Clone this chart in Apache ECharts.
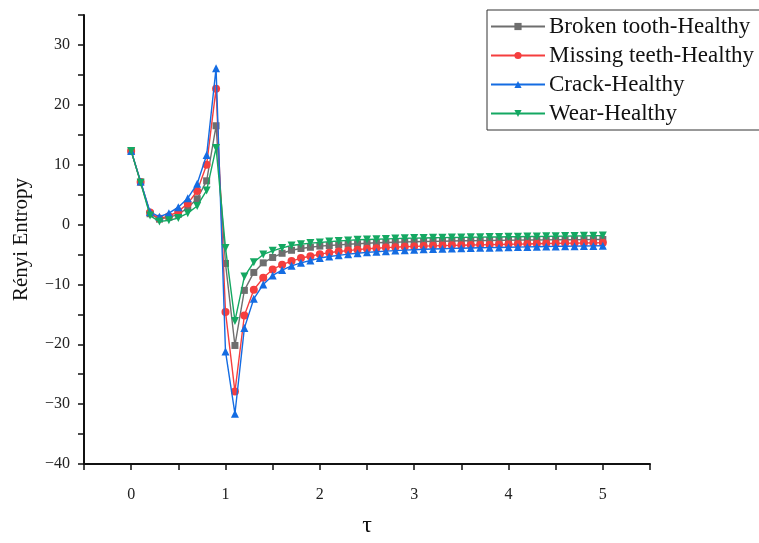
<!DOCTYPE html>
<html>
<head>
<meta charset="utf-8">
<script src="https://cdn.jsdelivr.net/npm/echarts@6/dist/echarts.min.js"></script>
<style>html,body{margin:0;padding:0;background:#fff}#c{width:759px;height:543px}</style>
</head>
<body>
<div id="c"></div>
<script>
const tau = [0.0,0.1,0.2,0.3,0.4,0.5,0.6,0.7,0.8,0.9,1.0,1.1,1.2,1.3,1.4,1.5,1.6,1.7,1.8,1.9,2.0,2.1,2.2,2.3,2.4,2.5,2.6,2.7,2.8,2.9,3.0,3.1,3.2,3.3,3.4,3.5,3.6,3.7,3.8,3.9,4.0,4.1,4.2,4.3,4.4,4.5,4.6,4.7,4.8,4.9,5.0];
const brokenTooth = [12.3,7.1,1.8,0.9,1.2,1.7,2.8,4.3,7.3,16.5,-6.5,-20.2,-11.0,-8.0,-6.4,-5.5,-4.8,-4.3,-4.0,-3.8,-3.6,-3.5,-3.4,-3.3,-3.2,-3.12,-3.05,-3.0,-2.95,-2.9,-2.87,-2.84,-2.81,-2.78,-2.75,-2.72,-2.7,-2.68,-2.66,-2.64,-2.62,-2.6,-2.59,-2.58,-2.56,-2.55,-2.54,-2.53,-2.52,-2.51,-2.5];
const missingTeeth = [12.3,7.1,2.0,1.0,1.4,2.2,3.5,5.6,10.0,22.7,-14.6,-27.9,-15.2,-10.9,-8.9,-7.5,-6.7,-6.1,-5.6,-5.3,-4.95,-4.7,-4.5,-4.35,-4.2,-4.05,-3.95,-3.85,-3.78,-3.7,-3.65,-3.6,-3.56,-3.52,-3.48,-3.45,-3.42,-3.39,-3.36,-3.33,-3.3,-3.27,-3.24,-3.21,-3.18,-3.15,-3.13,-3.11,-3.09,-3.07,-3.05];
const crack = [12.3,7.2,2.1,1.3,1.9,2.9,4.4,6.8,11.6,26.1,-21.2,-31.6,-17.3,-12.4,-10.0,-8.5,-7.6,-6.9,-6.4,-6.0,-5.6,-5.35,-5.15,-4.95,-4.8,-4.65,-4.55,-4.45,-4.35,-4.28,-4.2,-4.14,-4.09,-4.04,-3.99,-3.95,-3.92,-3.89,-3.86,-3.83,-3.8,-3.77,-3.74,-3.71,-3.68,-3.65,-3.63,-3.61,-3.59,-3.57,-3.55];
const wear = [12.3,7.0,1.5,0.5,0.7,1.1,1.9,3.1,5.7,12.8,-3.9,-16.1,-8.7,-6.3,-5.0,-4.4,-3.9,-3.5,-3.3,-3.1,-3.0,-2.85,-2.75,-2.65,-2.55,-2.5,-2.45,-2.4,-2.35,-2.3,-2.27,-2.24,-2.21,-2.19,-2.17,-2.15,-2.13,-2.11,-2.09,-2.07,-2.05,-2.03,-2.01,-1.99,-1.97,-1.95,-1.93,-1.91,-1.89,-1.87,-1.85];
const seriesNames = ['Broken tooth-Healthy','Missing teeth-Healthy','Crack-Healthy','Wear-Healthy'];
const xTicks = [0,1,2,3,4,5];
const yTicks = [-40,-30,-20,-10,0,10,20,30];

const colors = ['#6e6e6e','#f53e3e','#146ce2','#14a862'];
const symbols = ['rect','circle','triangle','triangle'];
const rot = [0,0,0,180];
const datasets = [brokenTooth, missingTeeth, crack, wear];
const font = 'Liberation Serif, Times New Roman, serif';

const chart = echarts.init(document.getElementById('c'), null, {renderer:'canvas'});
chart.setOption({
  animation: false,
  backgroundColor: '#fff',
  grid: {left: 84, right: 109, top: 15, bottom: 72, containLabel: false},
  legend: {
    orient: 'vertical', left: 487, top: 10,
    data: seriesNames,
    itemWidth: 54, itemHeight: 9, itemGap: 6,
    padding: [5, 10, 5, 3],
    borderColor: '#333', borderWidth: 1, backgroundColor: '#fff',
    textStyle: {fontFamily: font, fontSize: 23, color: '#111', padding: [0,0,0,-1]}
  },
  xAxis: {
    type: 'value', min: -0.5, max: 5.5, interval: 0.5,
    name: 'τ', nameLocation: 'middle', nameGap: 50,
    nameTextStyle: {fontFamily: font, fontSize: 24, color: '#111'},
    axisLine: {show: true, onZero: false, lineStyle: {color: '#111', width: 2}},
    axisTick: {show: true, inside: false, length: 6, lineStyle: {color: '#111', width: 1.5}},
    axisLabel: {fontFamily: font, fontSize: 16, color: '#222', margin: 23,
      formatter: v => xTicks.includes(Math.round(v*10)/10) ? String(Math.round(v)) : ''},
    splitLine: {show: false}
  },
  yAxis: {
    type: 'value', min: -40, max: 35, interval: 5,
    name: 'Rényi Entropy', nameLocation: 'middle', nameGap: 52,
    nameTextStyle: {fontFamily: font, fontSize: 21, color: '#111'},
    axisLine: {show: true, onZero: false, lineStyle: {color: '#111', width: 2}},
    axisTick: {show: true, inside: false, length: 6, lineStyle: {color: '#111', width: 1.5}},
    axisLabel: {fontFamily: font, fontSize: 16, color: '#222', margin: 14,
      formatter: v => yTicks.includes(v) ? String(v).replace('-', '\u2212') : ''},
    splitLine: {show: false}
  },
  series: datasets.map((d, i) => ({
    name: seriesNames[i],
    type: 'line',
    data: tau.map((t, j) => [t, d[j]]),
    symbol: symbols[i],
    symbolRotate: rot[i],
    symbolSize: i === 0 ? 7 : 8,
    showAllSymbol: true,
    lineStyle: {color: colors[i], width: 1.4},
    itemStyle: {color: colors[i]},
    z: 2 + i
  }))
});
</script>
</body>
</html>
